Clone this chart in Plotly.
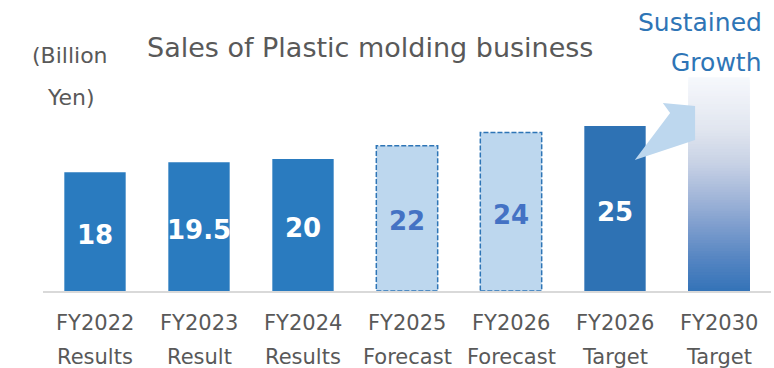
import plotly.graph_objects as go

# ---- data ----
years = ["FY2022", "FY2023", "FY2024", "FY2025", "FY2026", "FY2026", "FY2030"]
kinds = ["Results", "Result", "Results", "Forecast", "Forecast", "Target", "Target"]
values = [18, 19.5, 20, 22, 24, 25, None]
labels = ["18", "19.5", "20", "22", "24", "25", ""]
growth_value = 32.4   # visual height of the FY2030 "sustained growth" bar
unit_label = ["(Billion", "Yen)"]
title_text = "Sales of Plastic molding business"
growth_text = ["Sustained", "Growth"]

cats = [f"{y}<br>{k}" for y, k in zip(years, kinds)]

FONT = "DejaVu Sans"
GRAY = "#595959"
BLUE = "#2e75b6"
BAR_W = 0.59

fig = go.Figure()

# solid result / target bars
solid_idx = [0, 1, 2, 5]
solid_colors = ["#2a7bbf", "#2a7bbf", "#2a7bbf", "#2e72b4"]
fig.add_trace(go.Bar(
    x=[cats[i] for i in solid_idx], y=[values[i] for i in solid_idx],
    marker=dict(color=solid_colors, line=dict(width=0)),
    width=BAR_W, hoverinfo="skip",
))

# forecast bars
fc_idx = [3, 4]
fig.add_trace(go.Bar(
    x=[cats[i] for i in fc_idx], y=[values[i] for i in fc_idx],
    marker=dict(color="#bdd7ee", line=dict(width=0)),
    width=BAR_W, hoverinfo="skip",
))
for i in fc_idx:
    fig.add_shape(type="rect", xref="x", yref="y",
                  x0=i - BAR_W / 2, x1=i + BAR_W / 2, y0=0, y1=values[i],
                  line=dict(color=BLUE, width=1.5, dash="5px,2px"),
                  fillcolor="rgba(0,0,0,0)", layer="above")

# gradient FY2030 bar (overlapping bars, tallest/lightest first)
stops = [(0.0, (52, 115, 184)), (0.15, (85, 133, 194)), (0.3, (125, 157, 205)),
         (0.45, (165, 184, 218)), (0.6, (200, 210, 229)), (0.75, (224, 229, 239)),
         (0.9, (238, 241, 247)), (1.0, (246, 248, 252))]

def grad(t):
    for (t0, c0), (t1, c1) in zip(stops[:-1], stops[1:]):
        if t <= t1:
            f = (t - t0) / (t1 - t0)
            return "rgb(%d,%d,%d)" % tuple(round(a + (b - a) * f) for a, b in zip(c0, c1))
    return "rgb(%d,%d,%d)" % stops[-1][1]

N = 80
tops = [growth_value * (N - k) / N for k in range(N)]
gcols = [grad((N - k - 0.5) / N) for k in range(N)]
for top, col in zip(tops, gcols):
    fig.add_trace(go.Bar(x=[cats[6]], y=[top], width=BAR_W,
                         marker=dict(color=col, line=dict(width=0)),
                         hoverinfo="skip", showlegend=False))

# wedge arrow from the FY2026 target bar towards the FY2030 bar
v = values[5]
arrow_pts = [(5.19, v * 0.794), (5.53, v * 1.079), (5.46, v * 1.139),
             (5.77, v * 1.121), (5.77, v * 0.915)]
path = "M " + " L ".join(f"{x},{y}" for x, y in arrow_pts) + " Z"
fig.add_shape(type="path", xref="x", yref="y", path=path,
              fillcolor="#bdd7ee", line=dict(width=0), layer="above")

annotations = []
# value labels inside the bars
for i, (val, lab) in enumerate(zip(values, labels)):
    if val is None:
        continue
    col = "#4472c4" if i in fc_idx else "white"
    annotations.append(dict(x=i, y=val / 2, xref="x", yref="y", text=lab,
                            showarrow=False, xanchor="center", yanchor="middle",
                            yshift=-3,
                            font=dict(family=FONT, size=26, color=col, weight="bold")))
# category labels (two rows)
for i, (y, k) in enumerate(zip(years, kinds)):
    annotations.append(dict(x=i, y=0, xref="x", yref="y", text=y, showarrow=False,
                            xanchor="center", yanchor="middle", yshift=-32,
                            font=dict(family=FONT, size=21, color=GRAY)))
    annotations.append(dict(x=i, y=0, xref="x", yref="y", text=k, showarrow=False,
                            xanchor="center", yanchor="middle", yshift=-66,
                            font=dict(family=FONT, size=21, color=GRAY)))
# title
annotations.append(dict(x=(369.5 - 43) / 728, y=1, xref="paper", yref="paper",
                        text=title_text, showarrow=False, xanchor="center",
                        yanchor="middle", yshift=13,
                        font=dict(family=FONT, size=27, color=GRAY)))
# unit
annotations.append(dict(x=(70 - 43) / 728, y=1, xref="paper", yref="paper",
                        text=unit_label[0], showarrow=False, xanchor="center",
                        yanchor="middle", yshift=5,
                        font=dict(family=FONT, size=22, color=GRAY)))
annotations.append(dict(x=(71 - 43) / 728, y=1, xref="paper", yref="paper",
                        text=unit_label[1], showarrow=False, xanchor="center",
                        yanchor="middle", yshift=-37,
                        font=dict(family=FONT, size=22, color=GRAY)))
# sustained growth
annotations.append(dict(x=(764 - 43) / 728, y=1, xref="paper", yref="paper",
                        text=growth_text[0], showarrow=False, xanchor="right",
                        yanchor="middle", yshift=38,
                        font=dict(family=FONT, size=25, color=BLUE)))
annotations.append(dict(x=(764 - 43) / 728, y=1, xref="paper", yref="paper",
                        text=growth_text[1], showarrow=False, xanchor="right",
                        yanchor="middle", yshift=-2,
                        font=dict(family=FONT, size=25, color=BLUE)))

fig.update_layout(
    width=774, height=368,
    margin=dict(l=43, r=3, t=60, b=77),
    paper_bgcolor="white", plot_bgcolor="white",
    barmode="overlay", showlegend=False,
    xaxis=dict(type="category", categoryorder="array", categoryarray=cats,
               range=[-0.5, 6.5], showticklabels=False, showgrid=False,
               showline=True, linecolor="#d9d9d9", linewidth=2, ticks="", zeroline=False),
    yaxis=dict(range=[0, 35], visible=False, showgrid=False, zeroline=False),
    annotations=annotations,
)

fig.write_html("out.html")
